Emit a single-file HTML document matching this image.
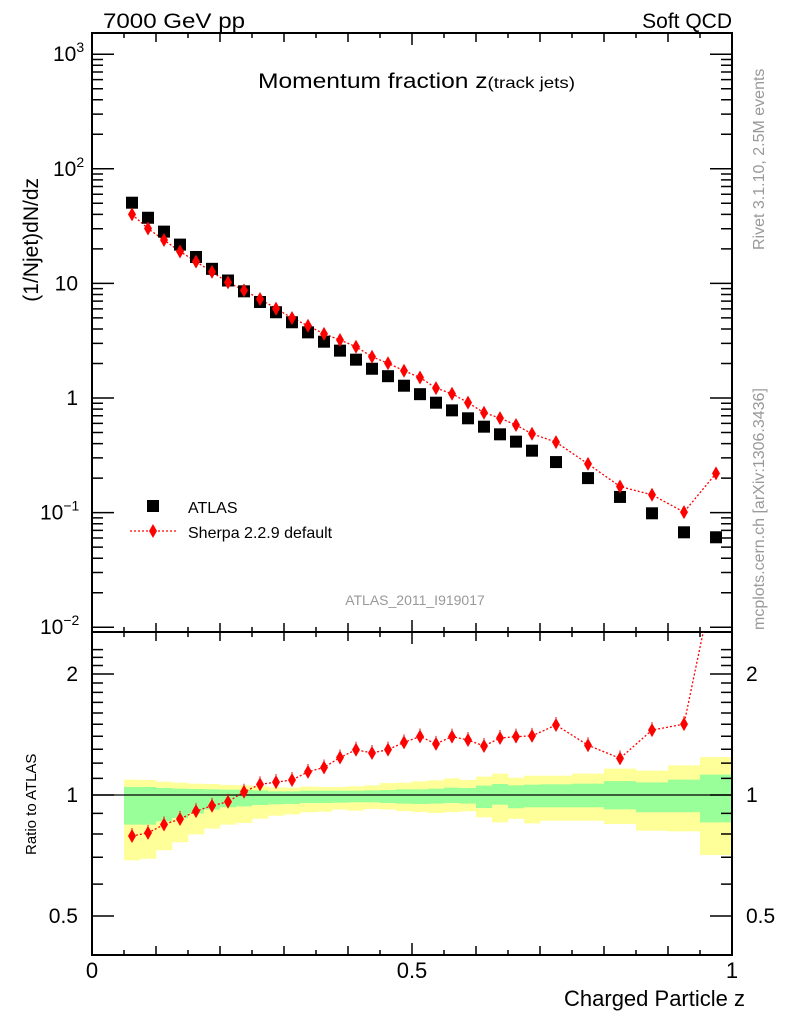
<!DOCTYPE html>
<html><head><meta charset="utf-8"><style>
html,body{margin:0;padding:0;background:#fff;}
svg{display:block;font-family:"Liberation Sans",sans-serif;}
</style></head><body>
<svg id="c" width="786" height="1024" viewBox="0 0 786 1024" xmlns="http://www.w3.org/2000/svg">
<defs>
<clipPath id="mainclip"><rect x="92" y="33" width="640" height="599"/></clipPath>
<clipPath id="ratclip"><rect x="92" y="632" width="640" height="323"/></clipPath>
</defs>
<g id="bands" clip-path="url(#ratclip)"></g>
<g id="axes"></g>
<g id="marks"></g>
<text x="103" y="28" font-size="21" textLength="142" lengthAdjust="spacingAndGlyphs">7000 GeV pp</text>
<text x="732" y="28" font-size="21" text-anchor="end">Soft QCD</text>
<text x="258" y="88" font-size="21" textLength="317" lengthAdjust="spacingAndGlyphs">Momentum fraction z<tspan font-size="16">(track jets)</tspan></text>
<text x="415" y="605" font-size="14" fill="#999" text-anchor="middle">ATLAS_2011_I919017</text>
<text transform="translate(38,178) rotate(-90)" font-size="21" text-anchor="end">(1/Njet)dN/dz</text>
<text transform="translate(36,855) rotate(-90)" font-size="15">Ratio to ATLAS</text>
<text x="745" y="1006" font-size="22" text-anchor="end">Charged Particle z</text>
<text transform="translate(764,250) rotate(-90)" font-size="16" fill="#999">Rivet 3.1.10,  2.5M events</text>
<text transform="translate(764,630) rotate(-90)" font-size="16" fill="#999">mcplots.cern.ch [arXiv:1306.3436]</text>
<g>
<rect x="147" y="500" width="12" height="12" fill="#000"/>
<text x="188" y="513" font-size="16">ATLAS</text>
<line x1="130" y1="531" x2="176" y2="531" stroke="#f00" stroke-width="1.3" stroke-dasharray="2,2"/>
<polygon points="153,524 157,531 153,538 149,531" fill="#f00"/>
<text x="188" y="538" font-size="16">Sherpa 2.2.9 default</text>
</g>
</svg>
<script>
const binEdges=[0.05,0.075,0.1,0.125,0.15,0.175,0.2,0.225,0.25,0.275,0.3,0.325,0.35,0.375,0.4,0.425,0.45,0.475,0.5,0.525,0.55,0.575,0.6,0.625,0.65,0.675,0.7,0.75,0.8,0.85,0.9,0.95,1.0];
const atlasValues=[50.6,37.4,28.3,21.8,17.0,13.4,10.6,8.53,6.88,5.60,4.58,3.74,3.10,2.59,2.16,1.80,1.55,1.28,1.08,0.91,0.78,0.665,0.562,0.482,0.416,0.347,0.276,0.200,0.137,0.0986,0.0673,0.0609];
const sherpaValues=[40.0,30.1,23.9,19.0,15.5,12.6,10.2,8.69,7.31,6.03,4.99,4.27,3.63,3.21,2.80,2.29,2.01,1.73,1.51,1.22,1.09,0.911,0.744,0.668,0.581,0.487,0.412,0.266,0.169,0.143,0.101,0.220];
const yellowUp=[1.092,1.090,1.079,1.073,1.067,1.065,1.059,1.057,1.051,1.045,1.043,1.049,1.047,1.047,1.051,1.057,1.071,1.073,1.081,1.088,1.100,1.090,1.111,1.130,1.104,1.117,1.117,1.130,1.163,1.150,1.185,1.243];
const greenUp=[1.047,1.047,1.041,1.037,1.035,1.033,1.031,1.031,1.027,1.021,1.021,1.025,1.025,1.025,1.025,1.027,1.029,1.033,1.033,1.037,1.043,1.041,1.055,1.065,1.057,1.061,1.063,1.067,1.083,1.075,1.092,1.124];
const greenDown=[0.844,0.844,0.860,0.877,0.899,0.920,0.932,0.937,0.944,0.948,0.950,0.955,0.955,0.957,0.959,0.959,0.955,0.952,0.950,0.952,0.955,0.952,0.928,0.946,0.927,0.932,0.932,0.932,0.921,0.906,0.906,0.855];
const yellowDown=[0.688,0.694,0.729,0.763,0.798,0.825,0.844,0.852,0.873,0.888,0.895,0.906,0.909,0.920,0.914,0.923,0.920,0.912,0.907,0.902,0.907,0.911,0.880,0.855,0.872,0.850,0.863,0.863,0.847,0.815,0.812,0.709];
const mainTickLabels=[["10","3"],["10","2"],["10",""],["1",""],["10","−1"],["10","−2"]];
const mainTickExps=[3,2,1,0,-1,-2];
const ratioTickValues=[2,1,0.5];
const xTickValues=[0,0.5,1];

const NS="http://www.w3.org/2000/svg";
const X0=92,X1=732,MT=33,MB=632,RB=955;
const xs=z=>X0+(X1-X0)*z;
const ym=v=>398-114.6*Math.log10(v);
const yr=r=>795-402*Math.log10(r);
function mk(tag,attrs,parent){const e=document.createElementNS(NS,tag);for(const k in attrs)e.setAttribute(k,attrs[k]);parent.appendChild(e);return e;}
const axes=document.getElementById('axes'),marks=document.getElementById('marks'),bands=document.getElementById('bands');

for(let i=0;i<atlasValues.length;i++){
  const a=xs(binEdges[i]),b=xs(binEdges[i+1]);
  const y1=mk('rect',{x:a,y:yr(yellowUp[i]),width:b-a+0.3,height:yr(yellowDown[i])-yr(yellowUp[i]),fill:'#ffff99'},bands);
  
  
  const g1=mk('rect',{x:a,y:yr(greenUp[i]),width:b-a+0.3,height:yr(greenDown[i])-yr(greenUp[i]),fill:'#99ff99'},bands);
  
  
}
const unity=mk('line',{x1:X0,x2:X1,y1:yr(1),y2:yr(1),stroke:'#000','stroke-width':1.3},axes);



const f1=mk('rect',{x:X0,y:MT,width:X1-X0,height:MB-MT,fill:'none',stroke:'#000','stroke-width':2},axes);


const f2=mk('rect',{x:X0,y:MB,width:X1-X0,height:RB-MB,fill:'none',stroke:'#000','stroke-width':2},axes);



let tp='';
for(let k=0;k<=20;k++){const z=k*0.05,x=xs(z);const L=(k%10==0)?12:(k%2==0?9:5);
  tp+=`M${x},${MT}v${L}M${x},${MB}v${-L}M${x},${MB}v${L}M${x},${RB}v${-L}`;}
for(let e=-2;e<=3;e++){for(let m=1;m<10;m++){const v=m*Math.pow(10,e);const y=ym(v);if(y<MT||y>MB)continue;const L=m==1?22:11;
  tp+=`M${X0},${y}h${L}M${X1},${y}h${-L}`;}}
for(let r=0.5;r<=2.35;r+=0.1){const y=yr(r);const maj=Math.abs(r-1)<0.01||Math.abs(r-2)<0.01||Math.abs(r-0.5)<0.01;const L=maj?22:11;
  tp+=`M${X0},${y}h${L}M${X1},${y}h${-L}`;}
const ticks=mk('path',{d:tp,stroke:'#000','stroke-width':1.5,fill:'none'},axes);



mainTickExps.forEach((e,i)=>{const t=mk('text',{x:78,y:ym(Math.pow(10,e))+7,'font-size':21,'text-anchor':'end'},axes);
  
  
  t.textContent=mainTickLabels[i][0];
  if(mainTickLabels[i][1]){const s=document.createElementNS(NS,'tspan');s.setAttribute('font-size',14);s.setAttribute('dy',-9);s.textContent=mainTickLabels[i][1];t.appendChild(s);t.setAttribute('text-anchor','start');t.setAttribute('x',e>=0?53:40);}
});
ratioTickValues.forEach(r=>{
  const t=mk('text',{x:78,y:yr(r)+7,'font-size':21,'text-anchor':'end'},axes);
  
  
  t.textContent=String(r);
  const t2=mk('text',{x:746,y:yr(r)+7,'font-size':21},axes);
  
  
  t2.textContent=String(r);
});
xTickValues.forEach(z=>{
  const t=mk('text',{x:xs(z),y:978,'font-size':22,'text-anchor':'middle'},axes);
  
  
  t.textContent=String(z);
});

const centers=atlasValues.map((v,i)=>(binEdges[i]+binEdges[i+1])/2);
const gm=mk('g',{'clip-path':'url(#mainclip)'},marks);
const gr=mk('g',{'clip-path':'url(#ratclip)'},marks);
const sp=sherpaValues.map((v,i)=>`${xs(centers[i])},${ym(v)}`).join(' ');
const sl=mk('polyline',{points:sp,fill:'none',stroke:'#f00','stroke-width':1.3,'stroke-dasharray':'2,2'},gm);


const ratios=sherpaValues.map((v,i)=>v/atlasValues[i]);
const rp=ratios.map((r,i)=>`${xs(centers[i])},${yr(r)}`).join(' ');
const rl=mk('polyline',{points:rp,fill:'none',stroke:'#f00','stroke-width':1.3,'stroke-dasharray':'2,2'},gr);


atlasValues.forEach((v,i)=>{const x=xs(centers[i]),y=ym(v);
  const r=mk('rect',{x:x-6,y:y-6,width:12,height:12,fill:'#000'},gm);
  
  
});
sherpaValues.forEach((v,i)=>{const x=xs(centers[i]),y=ym(v);
  const p=mk('polygon',{points:`${x},${y-7} ${x+4},${y} ${x},${y+7} ${x-4},${y}`,fill:'#f00'},gm);
  
  
});
ratios.forEach((r,i)=>{const x=xs(centers[i]),y=yr(r);
  const eb=mk('line',{x1:x,x2:x,y1:y-8,y2:y+8,stroke:'#f00','stroke-width':1,'stroke-dasharray':'2,2'},gr);
  
  
  const p=mk('polygon',{points:`${x},${y-7} ${x+4},${y} ${x},${y+7} ${x-4},${y}`,fill:'#f00'},gr);
  
  
});
</script>
</body></html>
